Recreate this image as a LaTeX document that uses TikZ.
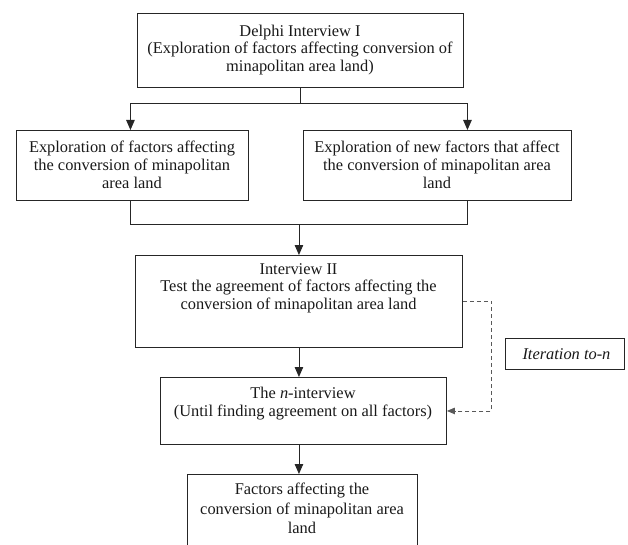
\documentclass[tikz,border=0pt]{standalone}
\usepackage{fontspec}
\setmainfont{Liberation Serif}
\usetikzlibrary{arrows.meta}
\begin{document}
\begin{tikzpicture}[x=1pt,y=-1pt,
  box/.style={draw=black!85, line width=0.9pt, inner sep=0pt, anchor=north west},
  txt/.style={align=center, font=\fontsize{16.4}{17.8}\selectfont, inner sep=0pt, anchor=north, text=black!90},
  ln/.style={draw=black!85, line width=0.9pt},
  arr/.style={ln, -{Triangle[length=10pt,width=8.5pt]}},
  darr/.style={draw=black!65, line width=0.9pt, dash pattern=on 4pt off 3pt, -{Triangle[length=8pt,width=6.5pt]}}]
\useasboundingbox (0,0) rectangle (628,545);
% boxes
\node[box, minimum width=326pt, minimum height=74pt] (b1) at (137,13) {};
\node[box, minimum width=232pt, minimum height=70pt] (b2) at (16,130) {};
\node[box, minimum width=268pt, minimum height=70pt] (b3) at (303,130) {};
\node[box, minimum width=327pt, minimum height=92pt] (b4) at (135,255) {};
\node[box, minimum width=286pt, minimum height=67pt] (b5) at (160,377) {};
\node[box, minimum width=230pt, minimum height=80pt] (b6) at (187,474) {};
\node[box, minimum width=119pt, minimum height=31pt] (it) at (505,338) {};
% texts
\node[txt] (t1) at (300,24.5) {Delphi Interview I\\(Exploration of factors affecting conversion of\\minapolitan area land)};
\node[txt] (t2) at (132,141) {Exploration of factors affecting\\the conversion of minapolitan\\area land};
\node[txt] (t3) at (437,141) {Exploration of new factors that affect\\the conversion of minapolitan area\\land};
\node[txt] (t4) at (298.5,263) {Interview II\\Test the agreement of factors affecting the\\conversion of minapolitan area land};
\node[txt] (t5) at (303,387) {The \textit{n}-interview\\(Until finding agreement on all factors)};
\node[txt, font=\fontsize{16.4}{19.5}\selectfont] (t6) at (302,483) {Factors affecting the\\conversion of minapolitan area\\land};
\node[txt, anchor=center, font=\fontsize{16.4}{17.8}\selectfont\itshape] (t7) at ([xshift=1.5pt]it.center) {Iteration to-\textit{n}};
% connectors
\draw[ln] (b1.south) -- ++(0,16) coordinate (j1);
\draw[arr] (j1) -| ([xshift=-2pt]b2.north);
\draw[arr] (j1) -| ([xshift=30pt]b3.north);
\draw[ln] ([xshift=-2pt]b2.south) -- ++(0,24) coordinate (j2) -| ([xshift=30pt]b3.south);
\draw[arr] (b4.north |- j2) -- (b4.north);
\draw[arr] (b4.south) -- (b4.south |- b5.north);
\draw[arr] (b4.south |- b5.south) -- (b4.south |- b6.north);
\draw[darr] (b4.east) -- ++(29,0) |- (b5.east);
\end{tikzpicture}
\end{document}
